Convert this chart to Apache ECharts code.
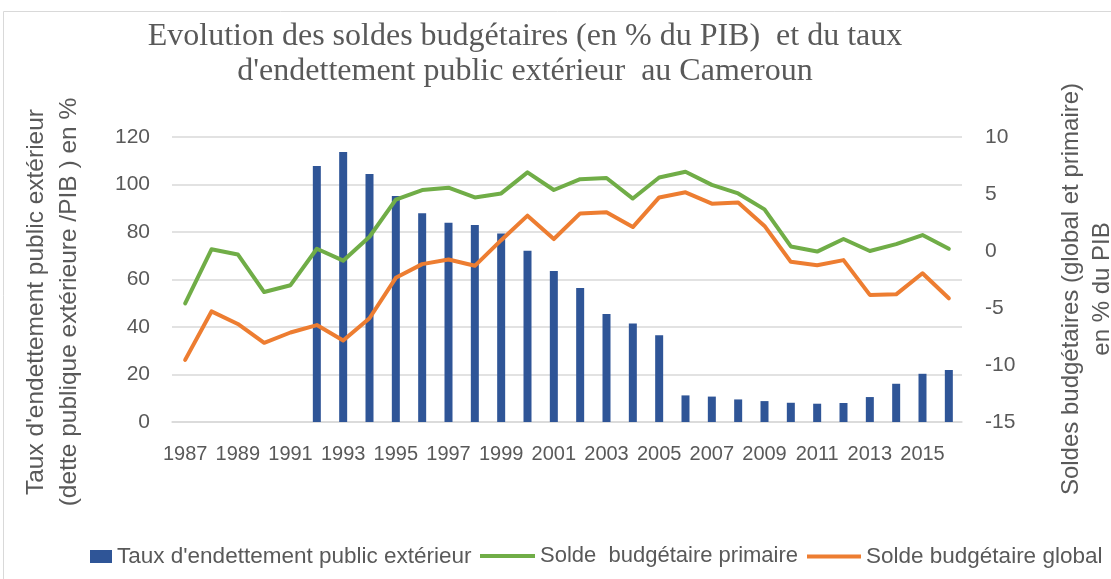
<!DOCTYPE html>
<html>
<head>
<meta charset="utf-8">
<script src="https://cdn.jsdelivr.net/npm/echarts@6/dist/echarts.min.js"></script>
<style>
  html, body { margin: 0; padding: 0; background: #fff; }
  #main { width: 1111px; height: 579px; }
</style>
</head>
<body>
<div id="main"></div>
<script>
// données
var annees = ['1987', '1988', '1989', '1990', '1991', '1992', '1993', '1994', '1995', '1996',
    '1997', '1998', '1999', '2000', '2001', '2002', '2003', '2004', '2005', '2006',
    '2007', '2008', '2009', '2010', '2011', '2012', '2013', '2014', '2015', '2016'];

// taux d'endettement public extérieur (% du PIB)
var dette = [null, null, null, null, null, 107.8, 113.7, 104.4, 95.2, 87.9,
    83.9, 82.9, 79.4, 72.1, 63.6, 56.4, 45.5, 41.5, 36.5, 11.2,
    10.7, 9.5, 8.8, 8.1, 7.7, 8.0, 10.5, 16.1, 20.3, 21.9];

// solde budgétaire primaire (% du PIB)
var soldePrimaire = [-4.6, 0.15, -0.3, -3.6, -3.0, 0.2, -0.85, 1.25, 4.5, 5.35,
    5.55, 4.7, 5.05, 6.9, 5.35, 6.3, 6.4, 4.6, 6.45, 6.95,
    5.8, 5.05, 3.65, 0.4, -0.05, 1.05, 0, 0.6, 1.4, 0.2];

// solde budgétaire global (% du PIB)
var soldeGlobal = [-9.55, -5.3, -6.4, -8.05, -7.15, -6.5, -7.85, -5.9, -2.35, -1.15,
    -0.75, -1.3, 0.95, 3.1, 1.05, 3.3, 3.4, 2.1, 4.7, 5.15,
    4.15, 4.25, 2.2, -0.95, -1.25, -0.8, -3.85, -3.8, -1.95, -4.15];

var gris = '#595959';
var police = "'Liberation Sans', Arial, sans-serif";

var myChart = echarts.init(document.getElementById('main'));

var option = {
    animation: false,
    backgroundColor: '#fff',
    title: {
        text: "Evolution des soldes budgétaires (en % du PIB)  et du taux\nd'endettement public extérieur  au Cameroun",
        left: 520,
        top: 14,
        textAlign: 'center',
        textStyle: {
            fontFamily: "'Liberation Serif', 'Times New Roman', serif",
            fontSize: 32,
            fontWeight: 'normal',
            lineHeight: 35,
            color: gris
        }
    },
    grid: {
        left: 172,
        right: 149,
        top: 137,
        bottom: 157
    },
    graphic: [
        {
            // bordure de la zone du graphique
            type: 'rect',
            shape: { x: 3.5, y: 11.5, width: 1200, height: 700 },
            style: { fill: 'none', stroke: '#d9d9d9', lineWidth: 1 },
            silent: true
        },
        {
            type: 'text',
            x: 53,
            y: 302,
            rotation: Math.PI / 2,
            style: {
                text: "Taux d'endettement public extérieur\n(dette publique extérieure /PIB ) en %",
                fontFamily: police,
                fontSize: 24.5,
                lineHeight: 33,
                fill: gris,
                textAlign: 'center',
                textVerticalAlign: 'middle'
            }
        },
        {
            type: 'text',
            x: 1087,
            y: 289,
            rotation: Math.PI / 2,
            style: {
                text: "Soldes budgétaires (global et primaire)\nen % du PIB",
                fontFamily: police,
                fontSize: 24,
                lineHeight: 31,
                fill: gris,
                textAlign: 'center',
                textVerticalAlign: 'middle'
            }
        }
    ],
    legend: [
        {
            data: ["Taux d'endettement public extérieur"],
            left: 90,
            top: 545,
            padding: 0,
            icon: 'rect',
            itemWidth: 22,
            itemHeight: 13,
            textStyle: { fontFamily: police, fontSize: 22.5, color: gris }
        },
        {
            data: ['Solde  budgétaire primaire'],
            left: 480,
            top: 545,
            padding: 0,
            icon: 'rect',
            itemWidth: 55,
            itemHeight: 4,
            textStyle: { fontFamily: police, fontSize: 22, color: gris }
        },
        {
            data: ['Solde budgétaire global'],
            left: 807,
            top: 545,
            padding: 0,
            icon: 'rect',
            itemWidth: 54,
            itemHeight: 4,
            textStyle: { fontFamily: police, fontSize: 22.5, color: gris }
        }
    ],
    xAxis: {
        type: 'category',
        data: annees,
        boundaryGap: true,
        axisTick: { show: false },
        axisLine: { lineStyle: { color: '#d9d9d9', width: 1.5 } },
        axisLabel: {
            interval: 1,
            margin: 22,
            fontFamily: police,
            fontSize: 20,
            color: gris
        }
    },
    yAxis: [
        {
            type: 'value',
            min: 0,
            max: 120,
            interval: 20,
            axisLine: { show: false },
            axisTick: { show: false },
            axisLabel: { margin: 22, fontFamily: police, fontSize: 21, color: gris },
            splitLine: { lineStyle: { color: '#d9d9d9', width: 1.5 } }
        },
        {
            type: 'value',
            min: -15,
            max: 10,
            interval: 5,
            position: 'right',
            alignTicks: false,
            axisLine: { show: false },
            axisTick: { show: false },
            axisLabel: { margin: 23, fontFamily: police, fontSize: 21, color: gris },
            splitLine: { show: false }
        }
    ],
    series: [
        {
            name: "Taux d'endettement public extérieur",
            type: 'bar',
            yAxisIndex: 0,
            barWidth: 8,
            itemStyle: { color: '#2f5597' },
            data: dette
        },
        {
            name: 'Solde  budgétaire primaire',
            type: 'line',
            yAxisIndex: 1,
            symbol: 'none',
            lineStyle: { color: '#70ad47', width: 4, cap: 'round', join: 'round' },
            itemStyle: { color: '#70ad47' },
            data: soldePrimaire
        },
        {
            name: 'Solde budgétaire global',
            type: 'line',
            yAxisIndex: 1,
            symbol: 'none',
            lineStyle: { color: '#ed7d31', width: 4, cap: 'round', join: 'round' },
            itemStyle: { color: '#ed7d31' },
            data: soldeGlobal
        }
    ]
};

myChart.setOption(option);
</script>
</body>
</html>
